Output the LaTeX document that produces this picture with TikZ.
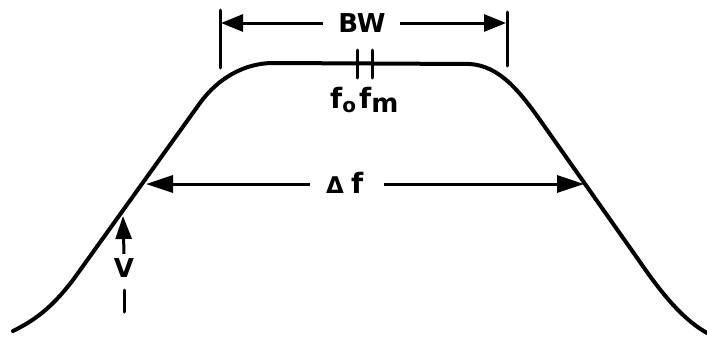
\documentclass[tikz,border=0pt]{standalone}
\usepackage{fontspec}
\setmainfont{DejaVu Sans}
\usetikzlibrary{arrows.meta}
\begin{document}
\begin{tikzpicture}[x=1pt,y=-1pt,
  curve/.style={line width=4pt, line cap=round, line join=round},
  dimline/.style={line width=3pt},
  tickline/.style={line width=3pt, line cap=round},
  tipbw/.style={-{Triangle[length=22pt,width=17pt]}},
  tipdf/.style={-{Triangle[length=27pt,width=17pt]}},
  tipv/.style={-{Triangle[length=23pt,width=16pt]}},
  lbl/.style={inner sep=0pt, font=\bfseries}]
\useasboundingbox (0,0) rectangle (707,338);

% response curve
\draw[curve] (13,331) .. controls (40,318) and (56,302) .. (73,280)
  -- (200,103) .. controls (218,78) and (245,63) .. (273,63)
  -- (470,64) .. controls (500,66) and (520,92) .. (540,120)
  -- (640,262) .. controls (662,294) and (684,321) .. (709,334);

% BW dimension
\coordinate (bwLt) at (220,10);
\coordinate (bwLb) at (220,68);
\coordinate (bwRt) at (507,12);
\coordinate (bwRb) at (507,66);
\draw[tickline] (bwLt) -- (bwLb);
\draw[tickline] (bwRt) -- (bwRb);
\node[lbl, font=\fontsize{26}{26}\selectfont\bfseries] (bw) at (362,23) {BW};
\coordinate (bwLs) at (323,23);
\coordinate (bwL) at (221,23);
\coordinate (bwRs) at (400,23);
\coordinate (bwR) at (506,23);
\draw[dimline, tipbw] (bwLs) -- (bwL);
\draw[dimline, tipbw] (bwRs) -- (bwR);

% f0 fm ticks
\coordinate (f0t) at (357,50);
\coordinate (f0b) at (357,78);
\coordinate (fmt) at (372,50);
\coordinate (fmb) at (372,78);
\draw[tickline] (f0t) -- (f0b);
\draw[tickline] (fmt) -- (fmb);
\node[lbl, anchor=base west] (fo) at (330,108)
  {\fontsize{28}{28}\selectfont f\raisebox{-4pt}{\fontsize{20}{20}\selectfont o}};
\node[lbl, anchor=base west] (fm) at (359,108)
  {\fontsize{28}{28}\selectfont f\raisebox{-4pt}{\fontsize{26}{26}\selectfont m}};

% Delta f dimension
\node[lbl, anchor=base west] (df) at (326,193)
  {{\fontsize{23}{23}\selectfont Δ}\hspace{7pt}{\fontsize{28}{28}\selectfont f}};
\coordinate (dfLs) at (310,184);
\coordinate (dfL) at (146,184);
\coordinate (dfRs) at (384,184);
\coordinate (dfR) at (584,184);
\draw[dimline, tipdf] (dfLs) -- (dfL);
\draw[dimline, tipdf] (dfRs) -- (dfR);

% V arrow
\coordinate (vs) at (124,254);
\coordinate (vt) at (123,216);
\draw[dimline, tipv] (vs) -- (vt);
\node[lbl, font=\fontsize{26}{26}\selectfont\bfseries] (v) at (124,268) {V};
\coordinate (vdt) at (124,290);
\coordinate (vdb) at (124,312);
\draw[tickline] (vdt) -- (vdb);
\end{tikzpicture}
\end{document}
